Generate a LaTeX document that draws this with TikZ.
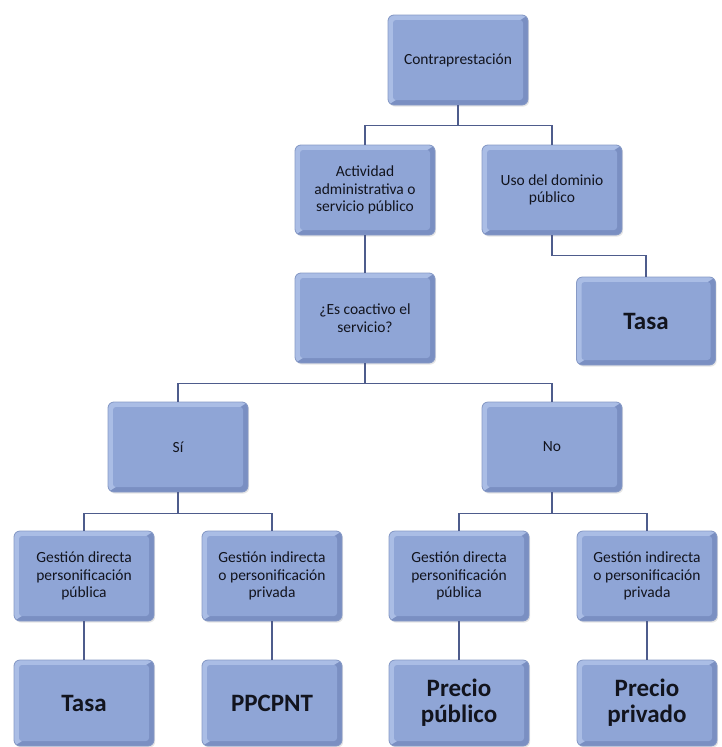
\documentclass[tikz,border=0pt]{standalone}
\usepackage{fontspec}
\setmainfont{Carlito}
\usetikzlibrary{shadows}
\definecolor{boxmid}{RGB}{143,165,214}
\definecolor{boxlight}{RGB}{170,189,229}
\definecolor{boxdark}{RGB}{122,143,194}
\definecolor{boxedge}{RGB}{135,154,198}
\definecolor{linkc}{RGB}{78,92,140}
\definecolor{txt}{RGB}{18,20,30}
\tikzset{
  box/.style={rectangle, rounded corners=6pt, minimum width=140pt, minimum height=90pt,
    inner sep=0pt, align=center, draw=boxedge, line width=0.8pt, fill=boxmid, text=txt,
    font=\fontsize{15.5}{17.5}\selectfont,
    drop shadow={opacity=0.2, shadow xshift=1.2pt, shadow yshift=-1.6pt},
    path picture={
      \fill[boxdark, sharp corners] (path picture bounding box.south west) rectangle (path picture bounding box.north east);
      \fill[boxlight, sharp corners] (path picture bounding box.south west) -- (path picture bounding box.north west) -- (path picture bounding box.north east) -- cycle;
      \fill[boxmid, rounded corners=3pt] ([shift={(5pt,5pt)}]path picture bounding box.south west) rectangle ([shift={(-5pt,-5pt)}]path picture bounding box.north east);
    }},
  bigbox/.style={box, font=\bfseries\fontsize{25}{26}\selectfont},
  link/.style={draw=linkc, line width=1.8pt}
}
\begin{document}
\begin{tikzpicture}[x=1pt, y=-1pt]
\fill[white] (0,0) rectangle (722,747);
\useasboundingbox (0,0) rectangle (722,747);

\node[box] (contra) at (458,60) {Contraprestación};
\node[box] (act) at (365,190) {Actividad\\administrativa o\\servicio público};
\node[box] (uso) at (552,190) {Uso del dominio\\público};
\node[box] (coac) at (365,318) {¿Es coactivo el\\servicio?};
\node[bigbox, minimum width=139pt, minimum height=88pt] (tasaA) at (646,321) {Tasa};
\node[box] (si) at (178,447) {Sí};
\node[box] (no) at (552,447) {No};
\node[box] (gd1) at (84,576) {Gestión directa\\personificación\\pública};
\node[box] (gi1) at (272,576) {Gestión indirecta\\o personificación\\privada};
\node[box] (gd2) at (459,576) {Gestión directa\\personificación\\pública};
\node[box] (gi2) at (647,576) {Gestión indirecta\\o personificación\\privada};
\node[bigbox, minimum height=86pt] (r1) at (84,703) {Tasa};
\node[bigbox, minimum height=86pt] (r2) at (272,703) {PPCPNT};
\node[bigbox, minimum height=86pt] (r3) at (459,703) {Precio\\público};
\node[bigbox, minimum height=86pt] (r4) at (647,703) {Precio\\privado};

\draw[link] (contra.south) -- ++(0,20) -| (act.north);
\draw[link] (contra.south) -- ++(0,20) -| (uso.north);
\draw[link] (act.south) -- (coac.north);
\draw[link] (uso.south) -- ++(0,20) -| (tasaA.north);
\draw[link] (coac.south) -- ++(0,20) -| (si.north);
\draw[link] (coac.south) -- ++(0,20) -| (no.north);
\draw[link] (si.south) -- ++(0,21) -| (gd1.north);
\draw[link] (si.south) -- ++(0,21) -| (gi1.north);
\draw[link] (no.south) -- ++(0,21) -| (gd2.north);
\draw[link] (no.south) -- ++(0,21) -| (gi2.north);
\draw[link] (gd1.south) -- (r1.north);
\draw[link] (gi1.south) -- (r2.north);
\draw[link] (gd2.south) -- (r3.north);
\draw[link] (gi2.south) -- (r4.north);
\end{tikzpicture}
\end{document}
